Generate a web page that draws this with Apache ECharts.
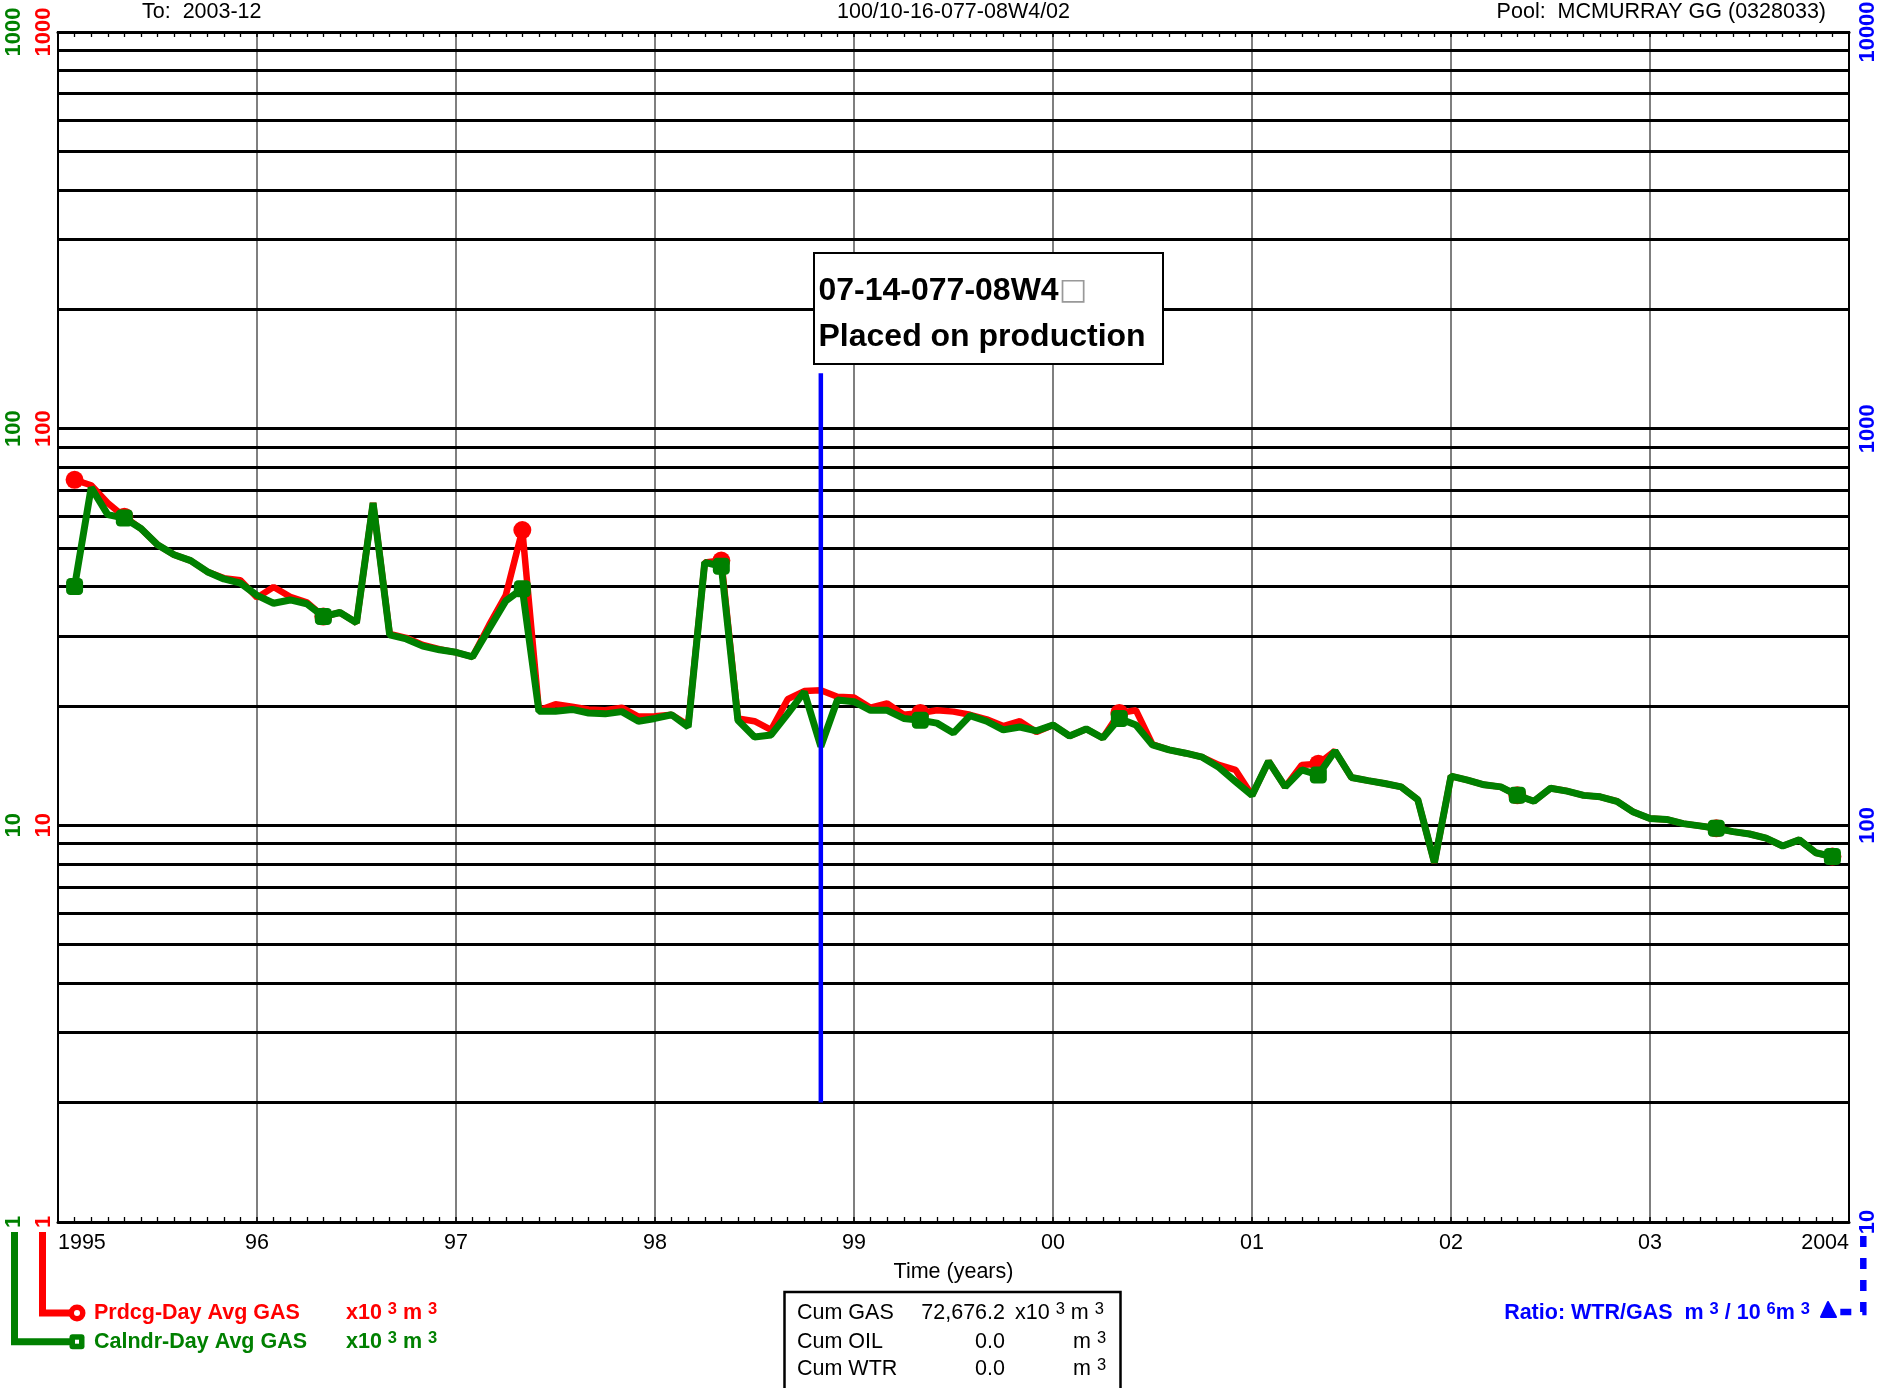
<!DOCTYPE html>
<html><head><meta charset="utf-8">
<script src="https://cdn.jsdelivr.net/npm/echarts@6/dist/echarts.min.js"></script>
<style>html,body{margin:0;padding:0;background:#fff}#c{width:1890px;height:1388px}</style>
</head><body><div id="c"></div>
<script>
// ---------- data ----------
const firstMonth = [1995, 2];           // first production month (year, month)
const producingDayGas = [74.3, 72, 65, 60, 56, 51, 48.1, 46.5, 43.6, 42,
 41.5, 37.5, 39.9, 37.7, 36.5, 33.6, 34.4, 32.4, 65, 30.4,
 29.7, 28.5, 27.8, 27.3, 26.6, 32, 38, 55.5, 19.5, 20.2,
 19.9, 19.6, 19.5, 19.8, 18.8, 18.85, 19.0, 17.9, 46, 46.5,
 18.6, 18.3, 17.4, 20.8, 21.8, 21.9, 21.1, 21.0, 19.8, 20.3,
 19.0, 19.2, 19.5, 19.35, 19.0, 18.5, 17.8, 18.3, 17.2, 17.9,
 16.8, 17.5, 16.6, 19.2, 19.5, 16.0, 15.5, 15.2, 14.85, 14.2,
 13.8, 11.9, 14.5, 12.5, 14.2, 14.3, 15.4, 13.2, 12.96, 12.75,
 12.5, 11.6, 8.05, 13.3, 13.0, 12.65, 12.5, 11.9, 11.5, 12.4,
 12.2, 11.9, 11.8, 11.5, 10.8, 10.4, 10.35, 10.1, 9.97, 9.83,
 9.64, 9.51, 9.28, 8.87, 9.19, 8.53, 8.34];
const calendarDayGas = [40, 71, 60.7, 59.5, 56, 51, 48.1, 46.5, 43.6, 41.8,
 40.8, 38, 36.3, 37, 36.2, 33.6, 34.4, 32.4, 65, 30.2,
 29.5, 28.3, 27.7, 27.3, 26.6, 31.3, 36.8, 39.5, 19.4, 19.4,
 19.6, 19.2, 19.1, 19.35, 18.3, 18.6, 19.0, 17.7, 46, 45,
 18.4, 16.7, 16.9, 19.1, 21.7, 15.8, 20.7, 20.5, 19.5, 19.5,
 18.6, 18.4, 18.1, 17.1, 18.9, 18.3, 17.4, 17.7, 17.3, 17.9,
 16.8, 17.5, 16.6, 18.6, 17.9, 15.95, 15.5, 15.2, 14.85, 14.0,
 12.9, 11.9, 14.5, 12.5, 13.8, 13.4, 15.4, 13.2, 12.96, 12.75,
 12.5, 11.6, 8.05, 13.3, 13.0, 12.65, 12.5, 11.9, 11.5, 12.4,
 12.2, 11.9, 11.8, 11.5, 10.8, 10.4, 10.35, 10.1, 9.97, 9.83,
 9.64, 9.51, 9.28, 8.87, 9.19, 8.53, 8.34];
const markerIndex = [0, 3, 15, 27, 39, 51, 63, 75, 87, 99, 106];
const annotationMonth = [1998, 11];
const annotationRange = [2, 138];
const annotationLines = ['07-14-077-08W4', 'Placed on production'];
const xYears = [1995, 2004];
const gasAxisRange = [1, 1000];
const ratioAxisRange = [10, 10000];
const gridMantissas = [1, 2, 3, 4, 5, 6, 7, 8, 9];
const headerLeft = 'To:  2003-12';
const headerCenter = '100/10-16-077-08W4/02';
const headerRight = 'Pool:  MCMURRAY GG (0328033)';
const cumLabels = ['Cum GAS', 'Cum OIL', 'Cum WTR'];
const cumValues = ['72,676.2', '0.0', '0.0'];

// ---------- helpers ----------
const F = "'Liberation Sans', Arial, Helvetica, sans-serif";
const RED = '#ff0000', GREEN = '#008000', BLUE = '#0000ff';
const monthX = (y, m) => y + (m - 1) / 12;
const xs = calendarDayGas.map((_, i) => monthX(firstMonth[0], firstMonth[1] + i));
const annX = monthX(annotationMonth[0], annotationMonth[1]);
const gridValues = [];
for (let d = gasAxisRange[0]; d < gasAxisRange[1]; d *= 10) {
  gridMantissas.forEach(k => { const v = k * d; if (v > gasAxisRange[0]) gridValues.push(v); });
}

const G = { left: 58, right: 41, top: 32, bottom: 166 };
const W = 1890, H = 1388;
const plotCx = (G.left + (W - G.right)) / 2;

function txt(x, y, text, st) {
  return { type: 'text', x, y, silent: true, z: 100,
    style: Object.assign({ text, fill: '#000', fontSize: 21.5, fontFamily: F,
      textAlign: 'left', textVerticalAlign: 'middle' }, st || {}) };
}
function unitRich(color, bold, text, align) {
  return {
    text,
    fill: color,
    textAlign: align || 'left',
    rich: {
      b: { fontSize: 21.5, fontFamily: F, fontWeight: bold ? 'bold' : 'normal', fill: color, lineHeight: 24 },
      s: { fontSize: 16.5, fontFamily: F, fontWeight: bold ? 'bold' : 'normal', fill: color, lineHeight: 17, verticalAlign: 'top' }
    }
  };
}

const xAxisCommon = {
  type: 'value', min: xYears[0], max: xYears[1], interval: 1,
  axisLine: { show: true, onZero: false, lineStyle: { color: '#000', width: 3 } },
  axisTick: { show: true, inside: true, length: 5, lineStyle: { color: '#000', width: 1.5 } },
  minorTick: { show: true, splitNumber: 12, length: 5, lineStyle: { color: '#000', width: 1.3 } },
  splitLine: { show: false }
};

const yLabel = (color, margin) => ({
  rotate: 90, color, fontWeight: 'bold', fontSize: 22, fontFamily: F, margin,
  formatter: v => String(Math.round(v)), showMinLabel: true, showMaxLabel: true
});

const option = {
  animation: false,
  backgroundColor: '#fff',
  grid: { left: G.left, right: G.right, top: G.top, bottom: G.bottom, show: true,
    borderColor: '#000', borderWidth: 2, backgroundColor: 'transparent', containLabel: false, outerBoundsMode: 'none' },
  xAxis: [
    Object.assign({}, xAxisCommon, {
      position: 'bottom',
      splitLine: { show: true, lineStyle: { color: '#555', width: 1.5 } },
      axisLabel: { show: true, color: '#000', fontSize: 21.5, fontFamily: F, margin: 10,
        alignMinLabel: 'left', alignMaxLabel: 'right', showMinLabel: true, showMaxLabel: true,
        formatter: v => (v === xYears[0] || v === xYears[1]) ? String(v) : String(Math.round(v) % 100).padStart(2, '0') }
    }),
    Object.assign({}, xAxisCommon, { position: 'top', axisLabel: { show: false } })
  ],
  yAxis: [
    { type: 'log', logBase: 10, min: gasAxisRange[0], max: gasAxisRange[1], position: 'left', offset: 0,
      axisLine: { show: true, lineStyle: { color: '#000', width: 2 } }, axisTick: { show: false },
      splitLine: { show: false }, axisLabel: yLabel(RED, 3) },
    { type: 'log', logBase: 10, min: gasAxisRange[0], max: gasAxisRange[1], position: 'left', offset: 30,
      axisLine: { show: false }, axisTick: { show: false },
      splitLine: { show: false }, axisLabel: yLabel(GREEN, 3) },
    { type: 'log', logBase: 10, min: ratioAxisRange[0], max: ratioAxisRange[1], position: 'right', offset: 0,
      axisLine: { show: true, lineStyle: { color: '#000', width: 2 } }, axisTick: { show: false },
      splitLine: { show: false }, axisLabel: yLabel(BLUE, 8) }
  ],
  series: [
    { type: 'line', name: 'Prdcg-Day Avg GAS', xAxisIndex: 0, yAxisIndex: 0, z: 3,
      data: xs.map((x, i) => [x, producingDayGas[i]]), symbol: 'none',
      lineStyle: { color: RED, width: 6.5 }, itemStyle: { color: RED },
      markLine: { silent: true, z: 1, symbol: ['none', 'none'], label: { show: false },
        lineStyle: { color: '#000', width: 3, type: 'solid' },
        emphasis: { disabled: true },
        data: gridValues.map(v => ({ yAxis: v })) } },
    { type: 'scatter', xAxisIndex: 0, yAxisIndex: 0, z: 3, symbol: 'circle', symbolSize: 18,
      data: markerIndex.map(i => [xs[i], producingDayGas[i]]), itemStyle: { color: RED, opacity: 1 } },
    { type: 'line', name: 'Calndr-Day Avg GAS', xAxisIndex: 0, yAxisIndex: 0, z: 4,
      data: xs.map((x, i) => [x, calendarDayGas[i]]), symbol: 'none',
      lineStyle: { color: GREEN, width: 7 }, itemStyle: { color: GREEN } },
    { type: 'scatter', xAxisIndex: 0, yAxisIndex: 0, z: 4, symbol: 'roundRect', symbolSize: 17,
      data: markerIndex.map(i => [xs[i], calendarDayGas[i]]), itemStyle: { color: GREEN, opacity: 1 } },
    { type: 'line', xAxisIndex: 0, yAxisIndex: 0, z: 5, symbol: 'none',
      data: annotationRange.map(v => [annX, v]), lineStyle: { color: BLUE, width: 4.5 } }
  ],
  graphic: [
    // header
    txt(142, 12, headerLeft),
    txt(plotCx, 12, headerCenter, { textAlign: 'center' }),
    txt(1826, 12, headerRight, { textAlign: 'right' }),
    // axis title
    txt(plotCx, 1272, 'Time (years)', { textAlign: 'center' }),
    // annotation box
    { type: 'rect', z: 90, silent: true, shape: { x: 814, y: 253, width: 349, height: 111 },
      style: { fill: '#fff', stroke: '#000', lineWidth: 2 } },
    txt(818.5, 291.5, '{a|' + annotationLines[0] + '}{g|\u25A1}', {
      rich: { a: { fontSize: 32, fontWeight: 'bold', fontFamily: F, fill: '#000' },
              g: { fontSize: 30, fontFamily: "'DejaVu Sans', sans-serif", fill: '#999' } } }),
    txt(818.5, 337.5, annotationLines[1], { fontSize: 32, fontWeight: 'bold' }),
    // legend red
    { type: 'polyline', z: 90, silent: true, shape: { points: [[42.5, 1232], [42.5, 1313], [72, 1313]] },
      style: { stroke: RED, lineWidth: 7, fill: null } },
    { type: 'circle', z: 91, silent: true, shape: { cx: 77, cy: 1313, r: 8.5 }, style: { fill: RED } },
    { type: 'circle', z: 92, silent: true, shape: { cx: 77, cy: 1313, r: 3 }, style: { fill: '#fff' } },
    txt(94, 1313, 'Prdcg-Day Avg GAS', { fill: RED, fontWeight: 'bold' }),
    txt(346, 1313, '', unitRich(RED, true, '{b|x10 }{s|3}{b| m }{s|3}')),
    // legend green
    { type: 'polyline', z: 90, silent: true, shape: { points: [[14.5, 1232], [14.5, 1341.7], [72, 1341.7]] },
      style: { stroke: GREEN, lineWidth: 7, fill: null } },
    { type: 'rect', z: 91, silent: true, shape: { x: 69.5, y: 1334.2, width: 15, height: 15, r: 3 }, style: { fill: GREEN } },
    { type: 'rect', z: 92, silent: true, shape: { x: 75, y: 1339.7, width: 4, height: 4 }, style: { fill: '#fff' } },
    txt(94, 1341.7, 'Calndr-Day Avg GAS', { fill: GREEN, fontWeight: 'bold' }),
    txt(346, 1341.7, '', unitRich(GREEN, true, '{b|x10 }{s|3}{b| m }{s|3}')),
    // cum box
    { type: 'rect', z: 90, silent: true, shape: { x: 784.5, y: 1292, width: 336, height: 120 },
      style: { fill: '#fff', stroke: '#000', lineWidth: 2.5 } },
    txt(797, 1313.3, cumLabels[0]), txt(1005, 1313.3, cumValues[0], { textAlign: 'right' }),
    txt(1015, 1313.3, '', unitRich('#000', false, '{b|x10 }{s|3}{b| m }{s|3}')),
    txt(797, 1341.7, cumLabels[1]), txt(1005, 1341.7, cumValues[1], { textAlign: 'right' }),
    txt(1073, 1341.7, '', unitRich('#000', false, '{b|m }{s|3}')),
    txt(797, 1369.3, cumLabels[2]), txt(1005, 1369.3, cumValues[2], { textAlign: 'right' }),
    txt(1073, 1369.3, '', unitRich('#000', false, '{b|m }{s|3}')),
    // ratio legend
    { type: 'polyline', z: 90, silent: true, shape: { points: [[1863.3, 1236], [1863.3, 1312], [1834, 1312]] },
      style: { stroke: BLUE, lineWidth: 6.5, fill: null, lineDash: [11, 11] } },
    { type: 'polygon', z: 91, silent: true, shape: { points: [[1821, 1317], [1828, 1302], [1836, 1317]] },
      style: { fill: BLUE, stroke: BLUE, lineWidth: 2, lineJoin: 'round' } },
    txt(1810, 1313.3, '', unitRich(BLUE, true, '{b|Ratio: WTR/GAS  m }{s|3}{b| / 10 }{s|6}{b|m }{s|3}', 'right'))
  ]
};
const chart = echarts.init(document.getElementById('c'), null, { renderer: 'canvas' });
chart.setOption(option);
</script>
</body></html>
